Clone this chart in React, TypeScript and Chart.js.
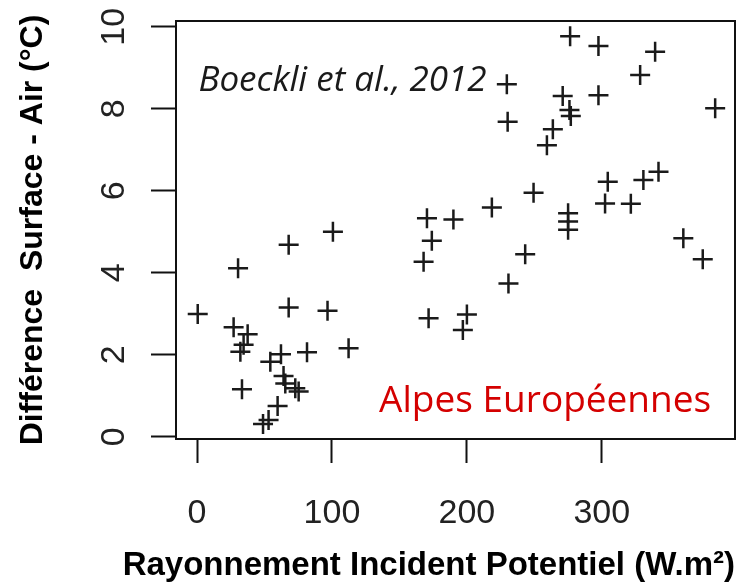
import React, { useEffect, useRef } from "react";
import { Chart, registerables } from "chart.js";

Chart.register(...registerables);

// Potential incoming radiation (W.m²)
const radiation = [
  276.5, 297.5, 339.5, 328.4, 229.6, 384, 271, 297.5, 276, 277,
  230.2, 263.7, 259.3, 342, 330.8, 304.4, 249.4, 218.5, 302.4, 321.5,
  170.4, 190, 275, 275, 275, 174, 167.9, 243.2, 230.8, 360.4,
  374.8, 171.6, 200, 197, 100.7, 67.9, 30.4, 0.5, 67.9, 96.7,
  27.1, 37.5, 34.5, 32.1, 62.2, 81.5, 112.3, 54.3, 33.3, 64.1,
  65.4, 72.8, 75.3, 59.7, 53, 48.9,
];

// Surface - air temperature difference (°C)
const tempDiff = [
  9.77, 9.53, 9.39, 8.82, 8.6, 8.01, 8.31, 8.33, 7.97, 7.82,
  7.68, 7.5, 7.11, 6.46, 6.26, 6.22, 5.95, 5.59, 5.69, 5.68,
  5.33, 5.3, 5.45, 5.25, 5.05, 4.78, 4.27, 4.45, 3.74, 4.84,
  4.33, 2.89, 2.98, 2.6, 5.0, 4.68, 4.11, 2.99, 3.15, 3.07,
  2.67, 2.5, 2.24, 2.07, 2.01, 2.06, 2.16, 1.83, 1.16, 1.48,
  1.3, 1.18, 1.1, 0.75, 0.41, 0.31,
];

const xTickValues = [0, 100, 200, 300];
const yTickValues = [0, 2, 4, 6, 8, 10];

const xTitle = "Rayonnement Incident Potentiel (W.m²)";
const yTitle = "Différence  Surface - Air (°C)";
const sourceLabel = "Boeckli et al., 2012";
const regionLabel = "Alpes Européennes";

const SANS = "'Liberation Sans', Arial, sans-serif";
const NOTE = "'Open Sans', sans-serif";

const framePlugin = {
  id: "frame",
  afterDraw(chart: any) {
    const { ctx, chartArea, scales } = chart;
    ctx.save();
    // in-plot annotations
    ctx.textBaseline = "alphabetic";
    ctx.fillStyle = "#1a1a1a";
    ctx.font = `italic 35px ${NOTE}`;
    ctx.textAlign = "left";
    ctx.fillText(sourceLabel, scales.x.getPixelForValue(1), scales.y.getPixelForValue(8.43));
    ctx.fillStyle = "#d40000";
    ctx.font = `37px ${NOTE}`;
    ctx.textAlign = "right";
    ctx.fillText(regionLabel, scales.x.getPixelForValue(381), scales.y.getPixelForValue(0.6));

    // axis titles (drawn without width squeezing)
    ctx.fillStyle = "#000";
    ctx.font = `bold 33px ${SANS}`;
    ctx.textAlign = "right";
    ctx.textBaseline = "alphabetic";
    ctx.fillText(xTitle, chartArea.right, 575);

    ctx.save();
    ctx.translate(33, (chartArea.top + chartArea.bottom) / 2);
    ctx.rotate(-Math.PI / 2);
    ctx.font = `bold 32px ${SANS}`;
    ctx.textAlign = "center";
    ctx.textBaseline = "middle";
    ctx.fillText(yTitle, 0, 0);
    ctx.restore();

    // plot frame
    ctx.strokeStyle = "#111";
    ctx.lineWidth = 2;
    ctx.strokeRect(
      chartArea.left,
      chartArea.top,
      chartArea.right - chartArea.left,
      chartArea.bottom - chartArea.top
    );
    ctx.restore();
  },
};

export default function App() {
  const ref = useRef<HTMLCanvasElement | null>(null);

  useEffect(() => {
    document.body.style.margin = "0";
    document.body.style.overflow = "hidden";
    const canvas = ref.current;
    if (!canvas) return;
    const chart = new Chart(canvas, {
      type: "scatter",
      data: {
        datasets: [
          {
            data: radiation.map((x, i) => ({ x, y: tempDiff[i] })),
            pointStyle: "cross",
            pointRadius: 10,
            pointHoverRadius: 10,
            borderWidth: 2.5,
            borderColor: "#1a1a1a",
            backgroundColor: "rgba(0,0,0,0)",
          },
        ],
      },
      options: {
        animation: false,
        responsive: false,
        devicePixelRatio: 1,
        layout: { autoPadding: false, padding: { top: 21, right: 1, bottom: 0, left: 0 } },
        plugins: {
          legend: { display: false },
          tooltip: { enabled: false },
        },
        events: [],
        scales: {
          x: {
            type: "linear",
            min: -15.6,
            max: 398.7,
            afterBuildTicks: (s: any) => {
              s.ticks = xTickValues.map((v) => ({ value: v }));
            },
            afterFit: (s: any) => {
              s.height = 147;
              s.paddingLeft = 0;
              s.paddingRight = 0;
              s.paddingTop = 0;
              s.paddingBottom = 0;
            },
            grid: {
              drawOnChartArea: false,
              drawTicks: true,
              tickLength: 24,
              tickWidth: 2,
              tickColor: "#111",
            },
            border: { display: false },
            ticks: {
              autoSkip: false,
              maxRotation: 0,
              padding: 30,
              color: "#222",
              font: { family: SANS, size: 34 },
              callback: (v: any) => String(v),
            },
            title: { display: false },
          },
          y: {
            type: "linear",
            min: -0.056,
            max: 10.14,
            afterBuildTicks: (s: any) => {
              s.ticks = yTickValues.map((v) => ({ value: v }));
            },
            afterFit: (s: any) => {
              s.width = 176;
              s.paddingLeft = 0;
              s.paddingRight = 0;
              s.paddingTop = 0;
              s.paddingBottom = 0;
            },
            grid: {
              drawOnChartArea: false,
              drawTicks: true,
              tickLength: 25,
              tickWidth: 2,
              tickColor: "#111",
            },
            border: { display: false },
            ticks: {
              autoSkip: false,
              minRotation: 90,
              maxRotation: 90,
              crossAlign: "center",
              padding: 17,
              color: "#222",
              font: { family: SANS, size: 34 },
              callback: (v: any) => String(v),
            },
            title: { display: false },
          },
        },
      },
      plugins: [framePlugin],
    } as any);
    return () => chart.destroy();
  }, []);

  return <canvas ref={ref} width={736} height={586} style={{ display: "block" }} />;
}
